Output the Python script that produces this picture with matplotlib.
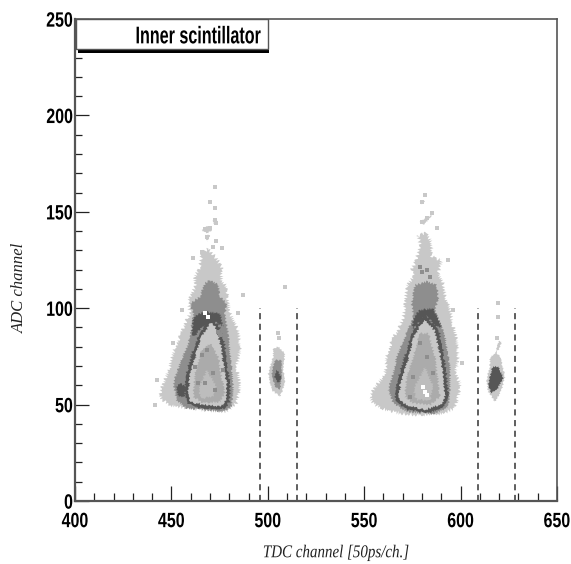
# scatter of ADC vs TDC channel for the inner scintillator, drawn as grey density bands

import matplotlib
matplotlib.use("Agg")
from matplotlib import pyplot as plt
from matplotlib.patches import Polygon, Rectangle
from matplotlib.patheffects import AbstractPathEffect
from matplotlib.transforms import Affine2D

# density band outlines, (TDC, ADC)
left_outer = [(444.1, 55.9), (445.8, 61), (449.2, 69.7), (450.1, 74.9), (454.4, 85.3), (456.2, 90.4),
              (459.6, 97.4), (458.8, 103.4), (462.2, 111.2), (462.2, 116.4), (464.8, 121.6), (465.7, 128.5),
              (469.1, 131.1), (472.6, 126.7), (476, 121.6), (476, 114.6), (478.6, 111.2), (479.5, 102.5),
              (480.4, 97.4), (484.7, 88.7), (485.6, 78.3), (483.8, 69.7), (485.6, 59.3), (483.8, 50.7),
              (478.6, 46.4), (470, 46.9), (457.9, 48.1), (449.2, 49.8), (444.9, 52.4)]
left_mid = [(451, 61), (454.4, 71.4), (458.8, 81.8), (460.5, 90.4), (461.4, 97.4), (459.6, 102.5),
            (464.8, 106), (467.4, 112.9), (470, 114.6), (474.3, 112), (475.2, 106), (478.6, 102.5),
            (477.8, 97.4), (479.5, 85.3), (481.2, 69.7), (482.1, 57.6), (481.2, 48.9), (476.9, 46.4),
            (457.9, 48.1), (452.7, 52.4)]
left_dark_top = [(461.4, 95.6), (467.4, 98.2), (475.2, 97.4), (476.9, 90.4), (472.6, 93), (465.7, 90.4),
                 (462.2, 85.3), (460.5, 87)]
left_dark_side = [(452.4, 59.3), (454.4, 61), (457.5, 59.3), (457, 54.1), (453.6, 54.1)]
left_inner = [(457.9, 54.1), (458.2, 64.5), (462.2, 78.3), (464.8, 85.3), (468.3, 91.3), (470.9, 93.9),
              (473.8, 90.4), (475.2, 85.3), (476.9, 80.1), (477.8, 71.4), (479.5, 61), (479.5, 52.4),
              (476.9, 48.6), (466.5, 48.6), (459.6, 50.7)]
left_core = [(461.4, 54.1), (462.2, 66.2), (465.7, 78.3), (470, 81.8), (474.3, 74.9), (476, 64.5),
             (477.8, 55.9), (475.2, 51.5), (466.5, 50.7)]
left_center = [(463.9, 57.6), (468.3, 68), (473.5, 59.3), (471.7, 54.1), (465.7, 53.3)]

right_outer = [(553, 54.1), (555.6, 59.3), (559.9, 64.5), (561.6, 69.7), (560.8, 72.3), (565.1, 85.3),
               (567.7, 88.7), (570.3, 95.6), (571.2, 102.5), (572, 111.2), (575.5, 116.4), (574.6, 119.8),
               (577.2, 125.9), (578.9, 132.8), (578.1, 138), (582.4, 138.9), (585, 133.7), (585, 126.7),
               (590.2, 125), (588.4, 118.1), (591, 112.9), (591.9, 106), (594.5, 99.1), (596.2, 90.4),
               (598, 83.5), (598.8, 73.1), (597.1, 66.2), (599.7, 61), (598.8, 54.1), (597.1, 48.1),
               (591, 45.5), (578.9, 44.6), (568.6, 45.5), (558.2, 48.1), (554.7, 50.7)]
right_mid = [(562.5, 57.6), (566, 69.7), (566.8, 74.9), (572, 87), (575.5, 95.6), (574.6, 102.5),
             (576.3, 112), (582.4, 113.8), (587.6, 112), (588.4, 105.1), (586.7, 99.1), (591.9, 85.3),
             (594.5, 69.7), (594.5, 57.6), (593.6, 48.9), (585.9, 45.1), (572, 46.4), (565.1, 50.7)]
right_dark_top = [(575.5, 94.8), (578.9, 99.1), (585.9, 99.9), (590.2, 90.4), (586.7, 90.4), (582.4, 96.5),
                  (578.9, 93), (574.6, 88.7)]
right_inner = [(566.8, 52.4), (567.7, 61), (572, 74.9), (575.5, 87), (578.9, 92.2), (581.5, 95.6),
               (585, 91.3), (587.6, 88.7), (590.2, 76.6), (591.9, 64.5), (592.8, 54.1), (590.2, 48.9),
               (582.4, 46.4), (572, 48.6)]
right_core = [(571.2, 54.1), (572, 64.5), (575.5, 74.9), (578.9, 87), (583.3, 87), (586.7, 74.9),
              (588.4, 61), (589.3, 54.1), (584.1, 49.8), (575.5, 50.7)]
right_center = [(575.5, 57.6), (581.5, 69.7), (585.9, 59.3), (584.1, 52.4), (577.2, 52.4)]

small1_outer = [(500.3, 66.2), (502.8, 74.9), (502.8, 79.2), (505.4, 80), (508.9, 76.6), (508, 68),
                (508.9, 61), (506.3, 54.1), (502, 57.6)]
small1_mid = [(502, 66.2), (503.7, 73.1), (507.2, 73.1), (507.2, 64.5), (506.3, 57.6), (503.7, 59.3)]
small1_dark = [(503.2, 64.5), (504.9, 68), (507.2, 63.6), (505.4, 61)]

small2_outer = [(613.5, 62.8), (615.2, 69.7), (615.2, 74), (617.8, 76.9), (619.6, 78.3), (621.3, 82.7),
                (619.6, 82.7), (618.4, 77.5), (620.8, 74), (623, 64.5), (621.3, 57.6), (617.8, 51.5),
                (614.4, 56.7)]
small2_dark = [(614.4, 61), (616.6, 69.7), (619.6, 69.7), (622.2, 63.6), (618.7, 57.6), (615.6, 55.9)]

# loose clumps above the main bands
clumps = [[(465.3, 140.6), (469.1, 142.7), (471.2, 140.6), (468.6, 138.8)],
          [(467.4, 138), (470, 138), (468.6, 134.5)],
          [(471.7, 146.6), (473.8, 145.8), (473.1, 143.2), (471.7, 144)],
          [(578.9, 144.9), (585, 148.4), (584.1, 146.6), (580.7, 143.2)],
          [(578.9, 155.3), (581.5, 155.8), (579.8, 154)]]

# isolated counts above and around the bands
speck_tdc = [472.6, 470, 472.6, 472.6, 473.1, 467.4, 470, 468.6, 473.1, 465.7, 461.4, 476, 471.7, 451,
             455.3, 484.7, 487.3, 441.5, 442.3, 508.9, 505.4, 505.8,
             581.5, 579.8, 585, 582.4, 579.8, 587.6, 579.8, 593.6, 596.2, 600.5, 619.6, 619.6, 618.7]
speck_adc = [163, 155.3, 151.8, 145.8, 144, 140.9, 141.4, 137.1, 135, 129.3, 125.9, 131.1, 131.6, 81.8,
             99.1, 97.4, 106.9, 49.8, 62.8, 111.2, 87, 84.4,
             158.7, 155.3, 149.2, 146.6, 144.9, 141.4, 137.1, 125, 99.1, 71.4, 95.6, 102.5, 84.4]

# lumps inside the bands
lump_dark_tdc = [474.3, 475.2, 468.3, 465.7, 471.7, 467.4, 463.9, 472.6, 476.9, 462.2,
                 578.9, 582.4, 575.5, 585.9, 573.7, 578.9, 582.4, 579.8, 584.1]
lump_dark_adc = [87.8, 86.1, 78.3, 75.7, 66.2, 61, 61, 57.6, 68, 69.7,
                 81.8, 74.9, 64.5, 66.2, 54.1, 121.6, 119.8, 119, 116.4]
lump_light_tdc = [467.4, 469.1, 581.5, 582.4, 580.7]
lump_light_adc = [97.4, 95.6, 56.7, 55, 59.3]

cut_positions = [495.8, 515, 609, 628]
cut_top = 100

x_major = list(range(400, 651, 50))
x_minor = list(range(400, 651, 10))
y_major = list(range(0, 251, 50))
y_minor = list(range(0, 251, 10))

light = "#c8c8c8"
mid = "#8e8e8e"
dark = "#565656"
core = "#ababab"
center = "#bdbdbd"
frame = "#555555"


class Tall(AbstractPathEffect):
    # the original lettering is condensed, so stretch a smaller font upward
    def __init__(self, factor):
        super().__init__()
        self.factor = factor

    def draw_path(self, renderer, gc, tpath, affine, rgbFace=None):
        ys = tpath.vertices[:, 1]
        middle = (ys.min() + ys.max()) / 2
        stretch = Affine2D().translate(0, -middle).scale(1, self.factor).translate(0, middle)
        renderer.draw_path(gc, tpath, stretch + affine, rgbFace)


def add_band(ax, points, color, edge=None, lw=0, jag=1.2):
    band = Polygon(points, closed=True, facecolor=color, edgecolor=edge if edge else color, linewidth=lw)
    band.set_sketch_params(scale=jag, length=3, randomness=2)
    ax.add_patch(band)


def main():
    fig = plt.figure(figsize=(5.71, 5.64), dpi=100)
    ax = fig.add_axes([75 / 571, 63 / 564, 482 / 571, 482 / 564])
    ax.set_xlim(400, 650)
    ax.set_ylim(0, 250)

    add_band(ax, left_outer, light, jag=2)
    add_band(ax, left_mid, mid)
    add_band(ax, left_dark_top, dark)
    add_band(ax, left_dark_side, dark, jag=1)
    add_band(ax, left_inner, light, edge=dark, lw=1.6)
    add_band(ax, left_core, core)
    add_band(ax, left_center, center)

    add_band(ax, right_outer, light, jag=2)
    add_band(ax, right_mid, mid)
    add_band(ax, right_dark_top, dark)
    add_band(ax, right_inner, light, edge=dark, lw=1.6)
    add_band(ax, right_core, core)
    add_band(ax, right_center, center)

    add_band(ax, small1_outer, light, jag=0.8)
    add_band(ax, small1_mid, mid, jag=0.8)
    add_band(ax, small1_dark, dark, jag=0.8)
    add_band(ax, small2_outer, light, jag=0.8)
    add_band(ax, small2_dark, dark, jag=0.8)
    for clump in clumps:
        add_band(ax, clump, light, jag=0.6)

    ax.scatter(speck_tdc, speck_adc, s=5, color=light, linewidths=0, marker="s")
    ax.scatter(lump_dark_tdc, lump_dark_adc, s=9, color=mid, linewidths=0, marker="s")
    ax.scatter(lump_light_tdc, lump_light_adc, s=5, color="white", linewidths=0, marker="s")

    for x in cut_positions:
        ax.plot([x, x], [0, cut_top], color="#333333", linewidth=1.1, linestyle=(0, (4, 3)))

    for side in ax.spines.values():
        side.set_color(frame)
        side.set_linewidth(1.2)
    ax.spines["left"].set_linewidth(1.6)
    ax.spines["bottom"].set_linewidth(1.6)

    ax.set_xticks(x_major)
    ax.set_xticks(x_minor, minor=True)
    ax.set_yticks(y_major)
    ax.set_yticks(y_minor, minor=True)
    ax.tick_params(axis="x", which="major", direction="in", length=10.8, width=0.9, color="#222222", pad=9)
    ax.tick_params(axis="x", which="minor", direction="in", length=5.8, width=0.9, color="#222222")
    ax.tick_params(axis="y", which="major", direction="in", length=10, width=0.9, color="#222222", pad=1.5)
    ax.tick_params(axis="y", which="minor", direction="in", length=5, width=0.9, color="#222222")
    for lab in ax.get_xticklabels() + ax.get_yticklabels():
        lab.set_family("Liberation Sans")
        lab.set_fontweight("bold")
        lab.set_fontsize(11.5)
        lab.set_path_effects([Tall(1.3)])

    # title box with its drop shadow
    ax.add_patch(Rectangle((401.6, 232.4), 99.2, 17.6, facecolor="black", edgecolor="none", zorder=4))
    ax.add_patch(Rectangle((400.5, 234.2), 99.6, 15.8, facecolor="white", edgecolor=frame, linewidth=1, zorder=5))
    ax.text(464, 241.2, "Inner scintillator", family="Liberation Sans", fontweight="bold", fontsize=11.6,
            ha="center", va="center", zorder=6, path_effects=[Tall(1.5)])

    fig.text(336 / 571, 1 - 553 / 564, "TDC channel [50ps/ch.]", family="Liberation Serif", style="italic",
             fontsize=10.8, ha="center", va="center", color="#222222", path_effects=[Tall(1.2)])
    fig.text(20 / 571, 1 - 288 / 564, "ADC channel", family="Liberation Serif", style="italic", fontsize=12,
             rotation=90, ha="center", va="center", color="#222222")

    fig.savefig("out.png", dpi=100)


if __name__ == "__main__":
    main()
